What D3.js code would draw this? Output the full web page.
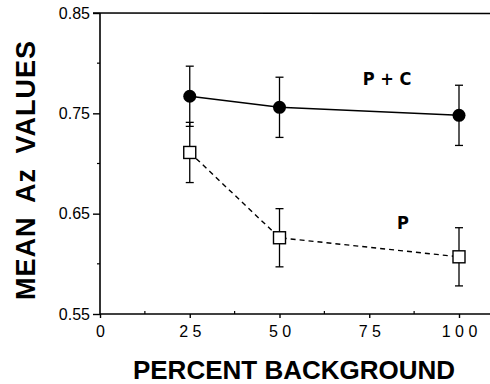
<!DOCTYPE html>
<html>
<head>
<meta charset="utf-8">
<script src="https://cdn.jsdelivr.net/npm/d3@7"></script>
<style>
  body { margin: 0; background: #fff; }
  svg { display: block; }
</style>
</head>
<body>
<svg width="490" height="384"></svg>
<script>
const percents = [25, 50, 100]
const pcMeans = [0.767, 0.756, 0.748]
const pcErr = [0.03, 0.03, 0.03]
const pMeans = [0.711, 0.626, 0.607]
const pErr = [0.03, 0.029, 0.029]
const xTicks = [0, 25, 50, 75, 100]
const xMinor = [12.5, 37.5, 62.5, 87.5]
const yTicks = [0.55, 0.65, 0.75, 0.85]
const yMinor = [0.6, 0.7, 0.8]

const font = 'Liberation Sans, Arial, Helvetica, sans-serif'
const svg = d3.select('svg')

const x = d3.scaleLinear().domain([0, 100]).range([100, 459])
const y = d3.scaleLinear().domain([0.55, 0.85]).range([314, 13])

// frame lines: left, bottom, top (runs off the right edge)
svg.append('line').attr('x1', 100).attr('x2', 100).attr('y1', 13).attr('y2', 314)
  .attr('stroke', '#000').attr('stroke-width', 1.6)
svg.append('line').attr('x1', 100).attr('x2', 490).attr('y1', 314).attr('y2', 314)
  .attr('stroke', '#000').attr('stroke-width', 1.6)
svg.append('line').attr('x1', 93).attr('x2', 490).attr('y1', 13).attr('y2', 13.5)
  .attr('stroke', '#000').attr('stroke-width', 1.6)

const yAxis = d3.axisLeft(y).tickValues(yTicks).tickFormat(d3.format('.2f')).tickSize(7).tickPadding(3)
svg.append('g').attr('transform', 'translate(100,0)').call(yAxis)
  .call((g) => g.select('.domain').remove())
  .call((g) => g.selectAll('text').attr('font-family', font).attr('font-size', 16).attr('fill', '#000'))
  .call((g) => g.selectAll('line').attr('stroke-width', 1.4))

svg.selectAll('.yminor').data(yMinor).enter().append('line')
  .attr('x1', 100).attr('x2', 97).attr('y1', (d) => y(d)).attr('y2', (d) => y(d))
  .attr('stroke', '#000').attr('stroke-width', 1.2)

const xAxis = d3.axisBottom(x).tickValues(xTicks).tickSize(4).tickPadding(8)
  .tickFormat((d) => String(d).split('').join(' '))
svg.append('g').attr('transform', 'translate(0,314)').call(xAxis)
  .call((g) => g.select('.domain').remove())
  .call((g) => g.selectAll('text').attr('font-family', font).attr('font-size', 16).attr('fill', '#000'))
  .call((g) => g.selectAll('line').attr('stroke-width', 1.4))

svg.selectAll('.xminor').data(xMinor).enter().append('line')
  .attr('x1', (d) => x(d)).attr('x2', (d) => x(d)).attr('y1', 314).attr('y2', 311)
  .attr('stroke', '#000').attr('stroke-width', 1.2)

const pc = percents.map((p, i) => ({ p, m: pcMeans[i], e: pcErr[i] }))
const pp = percents.map((p, i) => ({ p, m: pMeans[i], e: pErr[i] }))

const line = d3.line().x((d) => x(d.p)).y((d) => y(d.m))

function errorBars(data, cls) {
  const g = svg.append('g').attr('class', cls).attr('stroke', '#000').attr('stroke-width', 1.3)
  g.selectAll('.v').data(data).enter().append('line')
    .attr('x1', (d) => x(d.p)).attr('x2', (d) => x(d.p))
    .attr('y1', (d) => y(d.m - d.e)).attr('y2', (d) => y(d.m + d.e))
  g.selectAll('.t').data(data).enter().append('line')
    .attr('x1', (d) => x(d.p) - 4).attr('x2', (d) => x(d.p) + 4)
    .attr('y1', (d) => y(d.m + d.e)).attr('y2', (d) => y(d.m + d.e))
  g.selectAll('.b').data(data).enter().append('line')
    .attr('x1', (d) => x(d.p) - 4).attr('x2', (d) => x(d.p) + 4)
    .attr('y1', (d) => y(d.m - d.e)).attr('y2', (d) => y(d.m - d.e))
}

errorBars(pc, 'err-pc')
errorBars(pp, 'err-p')

svg.append('path').datum(pc).attr('d', line)
  .attr('fill', 'none').attr('stroke', '#000').attr('stroke-width', 1.5)
svg.append('path').datum(pp).attr('d', line)
  .attr('fill', 'none').attr('stroke', '#000').attr('stroke-width', 1.4)
  .attr('stroke-dasharray', '5,4')

svg.selectAll('.dot').data(pc).enter().append('circle')
  .attr('cx', (d) => x(d.p)).attr('cy', (d) => y(d.m)).attr('r', 6.5)
  .attr('fill', '#000')

svg.selectAll('.sq').data(pp).enter().append('rect')
  .attr('x', (d) => x(d.p) - 6).attr('y', (d) => y(d.m) - 6)
  .attr('width', 12).attr('height', 12)
  .attr('fill', '#fff').attr('stroke', '#000').attr('stroke-width', 1.4)

svg.append('text').attr('x', 387).attr('y', 85).attr('text-anchor', 'middle')
  .attr('font-family', 'DejaVu Sans Condensed, DejaVu Sans, sans-serif').attr('font-weight', 'bold')
  .attr('font-size', 18).text('P + C')
svg.append('text').attr('x', 403).attr('y', 229).attr('text-anchor', 'middle')
  .attr('font-family', 'DejaVu Sans Condensed, DejaVu Sans, sans-serif').attr('font-weight', 'bold')
  .attr('font-size', 18).text('P')

svg.append('text').attr('x', 294).attr('y', 379).attr('text-anchor', 'middle')
  .attr('font-family', font).attr('font-weight', 'bold').attr('font-size', 26)
  .text('PERCENT BACKGROUND')
svg.append('text').attr('transform', 'translate(35,170) rotate(-90)').attr('text-anchor', 'middle')
  .attr('font-family', font).attr('font-weight', 'bold').attr('font-size', 27)
  .attr('letter-spacing', 1).attr('word-spacing', 6)
  .text('MEAN Az VALUES')
</script>
</body>
</html>
